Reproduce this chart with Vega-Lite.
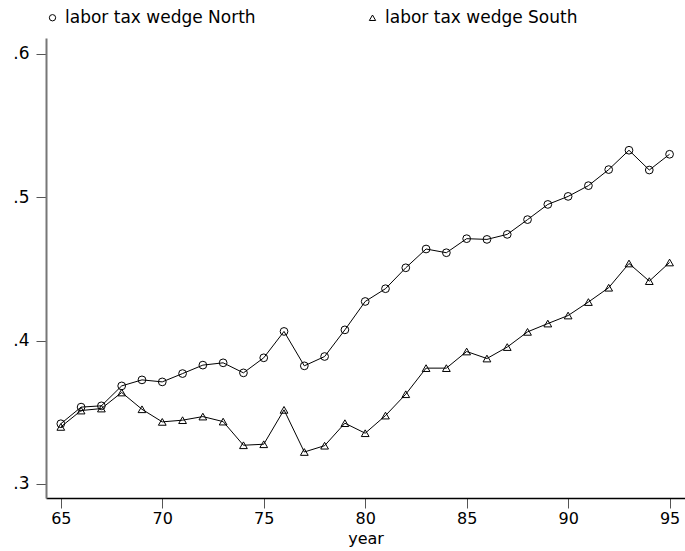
{
  "$schema": "https://vega.github.io/schema/vega-lite/v6.json",
  "width": 639,
  "height": 460,
  "autosize": {"type": "none"},
  "padding": {"left": 46, "top": 38, "right": 0, "bottom": 53},
  "background": "white",
  "config": {
    "view": {"stroke": null},
    "font": "DejaVu Sans",
    "axis": {"grid": false, "labelFont": "DejaVu Sans", "titleFont": "DejaVu Sans", "labelColor": "black", "titleColor": "black"}
  },
  "data": {
    "values": [
      {"year": 65, "series": "labor tax wedge North", "v": 0.342},
      {"year": 66, "series": "labor tax wedge North", "v": 0.3536},
      {"year": 67, "series": "labor tax wedge North", "v": 0.3545},
      {"year": 68, "series": "labor tax wedge North", "v": 0.3684},
      {"year": 69, "series": "labor tax wedge North", "v": 0.3726},
      {"year": 70, "series": "labor tax wedge North", "v": 0.3712},
      {"year": 71, "series": "labor tax wedge North", "v": 0.377},
      {"year": 72, "series": "labor tax wedge North", "v": 0.3829},
      {"year": 73, "series": "labor tax wedge North", "v": 0.3845},
      {"year": 74, "series": "labor tax wedge North", "v": 0.3775},
      {"year": 75, "series": "labor tax wedge North", "v": 0.388},
      {"year": 76, "series": "labor tax wedge North", "v": 0.4064},
      {"year": 77, "series": "labor tax wedge North", "v": 0.3824},
      {"year": 78, "series": "labor tax wedge North", "v": 0.3889},
      {"year": 79, "series": "labor tax wedge North", "v": 0.4075},
      {"year": 80, "series": "labor tax wedge North", "v": 0.4273},
      {"year": 81, "series": "labor tax wedge North", "v": 0.4362},
      {"year": 82, "series": "labor tax wedge North", "v": 0.4508},
      {"year": 83, "series": "labor tax wedge North", "v": 0.4639},
      {"year": 84, "series": "labor tax wedge North", "v": 0.4613},
      {"year": 85, "series": "labor tax wedge North", "v": 0.4711},
      {"year": 86, "series": "labor tax wedge North", "v": 0.4706},
      {"year": 87, "series": "labor tax wedge North", "v": 0.4741},
      {"year": 88, "series": "labor tax wedge North", "v": 0.4844},
      {"year": 89, "series": "labor tax wedge North", "v": 0.495},
      {"year": 90, "series": "labor tax wedge North", "v": 0.5006},
      {"year": 91, "series": "labor tax wedge North", "v": 0.5081},
      {"year": 92, "series": "labor tax wedge North", "v": 0.5193},
      {"year": 93, "series": "labor tax wedge North", "v": 0.5328},
      {"year": 94, "series": "labor tax wedge North", "v": 0.519},
      {"year": 95, "series": "labor tax wedge North", "v": 0.53},
      {"year": 65, "series": "labor tax wedge South", "v": 0.3398},
      {"year": 66, "series": "labor tax wedge South", "v": 0.3512},
      {"year": 67, "series": "labor tax wedge South", "v": 0.3526},
      {"year": 68, "series": "labor tax wedge South", "v": 0.3638},
      {"year": 69, "series": "labor tax wedge South", "v": 0.3521},
      {"year": 70, "series": "labor tax wedge South", "v": 0.3433},
      {"year": 71, "series": "labor tax wedge South", "v": 0.3445},
      {"year": 72, "series": "labor tax wedge South", "v": 0.347},
      {"year": 73, "series": "labor tax wedge South", "v": 0.3435},
      {"year": 74, "series": "labor tax wedge South", "v": 0.327},
      {"year": 75, "series": "labor tax wedge South", "v": 0.3277},
      {"year": 76, "series": "labor tax wedge South", "v": 0.3517},
      {"year": 77, "series": "labor tax wedge South", "v": 0.3223},
      {"year": 78, "series": "labor tax wedge South", "v": 0.3267},
      {"year": 79, "series": "labor tax wedge South", "v": 0.3424},
      {"year": 80, "series": "labor tax wedge South", "v": 0.3354},
      {"year": 81, "series": "labor tax wedge South", "v": 0.3477},
      {"year": 82, "series": "labor tax wedge South", "v": 0.3626},
      {"year": 83, "series": "labor tax wedge South", "v": 0.3808},
      {"year": 84, "series": "labor tax wedge South", "v": 0.3808},
      {"year": 85, "series": "labor tax wedge South", "v": 0.3924},
      {"year": 86, "series": "labor tax wedge South", "v": 0.3875},
      {"year": 87, "series": "labor tax wedge South", "v": 0.3955},
      {"year": 88, "series": "labor tax wedge South", "v": 0.4061},
      {"year": 89, "series": "labor tax wedge South", "v": 0.4119},
      {"year": 90, "series": "labor tax wedge South", "v": 0.4175},
      {"year": 91, "series": "labor tax wedge South", "v": 0.4269},
      {"year": 92, "series": "labor tax wedge South", "v": 0.4369},
      {"year": 93, "series": "labor tax wedge South", "v": 0.4538},
      {"year": 94, "series": "labor tax wedge South", "v": 0.4415},
      {"year": 95, "series": "labor tax wedge South", "v": 0.4545}
    ]
  },
  "encoding": {
    "x": {
      "field": "year", "type": "quantitative",
      "scale": {"domain": [64.27, 95.76], "nice": false, "zero": false},
      "axis": {
        "values": [65, 70, 75, 80, 85, 90, 95],
        "title": "year", "titleFontSize": 16, "titleFontWeight": "normal", "titlePadding": 4,
        "labelFontSize": 16, "labelPadding": 2, "tickSize": 10, "tickColor": "#555",
        "domainColor": "black", "domainWidth": 1.5, "tickWidth": 1
      }
    },
    "y": {
      "field": "v", "type": "quantitative",
      "scale": {"domain": [0.2902, 0.6111], "nice": false, "zero": false},
      "axis": {
        "values": [0.3, 0.4, 0.5, 0.6],
        "title": null,
        "labelExpr": "replace(format(datum.value, '.1f'), '0.', '.')",
        "labelFontSize": 17, "labelPadding": 7, "tickSize": 10, "tickColor": "#555",
        "domainColor": "#777", "domainWidth": 2, "tickWidth": 1
      }
    }
  },
  "layer": [
    {
      "mark": {"type": "line", "color": "black", "strokeWidth": 1},
      "encoding": {"detail": {"field": "series"}}
    },
    {
      "mark": {"type": "point", "filled": false, "stroke": "black", "strokeWidth": 1, "size": 60, "opacity": 1},
      "encoding": {
        "shape": {
          "field": "series", "type": "nominal",
          "scale": {"domain": ["labor tax wedge North", "labor tax wedge South"], "range": ["circle", "triangle-up"]},
          "legend": {
            "title": null, "orient": "none", "direction": "horizontal",
            "legendX": -2, "legendY": -29, "columns": 2, "columnPadding": 108,
            "labelFontSize": 17, "labelFont": "DejaVu Sans", "labelColor": "black",
            "symbolSize": 40, "symbolStrokeColor": "black", "symbolStrokeWidth": 1, "symbolType": "circle",
            "labelOffset": 4, "labelLimit": 300
          }
        }
      }
    }
  ]
}
